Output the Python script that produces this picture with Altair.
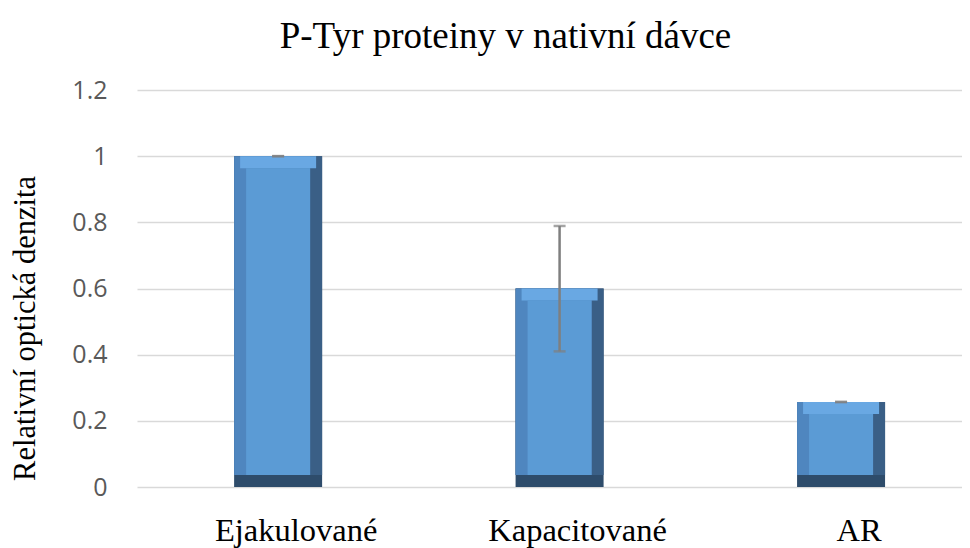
import altair as alt
import pandas as pd

categories = ["Ejakulované", "Kapacitované", "AR"]
values = [1.0, 0.6, 0.257]
err_low = [1.0, 0.41, 0.257]
err_high = [1.0, 0.789, 0.257]

df = pd.DataFrame({"cat": categories, "val": values, "lo": err_low, "hi": err_high})

xscale = alt.Scale(domain=categories, paddingInner=0.687, paddingOuter=0.309, align=0.558)
yscale = alt.Scale(domain=[0, 1.2], nice=False)

X = alt.X("cat:N", scale=xscale, sort=categories, title=None,
          axis=alt.Axis(labelAngle=0, labelFont="Liberation Serif", labelFontSize=32.5,
                        labelColor="#000000", labelPadding=27, labelOffset=18,
                        domain=False, ticks=False))
yaxis = alt.Axis(values=[0, 0.2, 0.4, 0.6, 0.8, 1.0, 1.2], format="~g",
                 labelFont="Open Sans", labelFontSize=25, labelColor="#595959",
                 labelPadding=30, domain=False, ticks=False,
                 gridColor="#D9D9D9", gridWidth=1.5,
                 titleFont="Liberation Serif", titleFontSize=30.5, titleFontWeight="normal",
                 titleColor="#000000", titleX=-112, titleY=238, titleAngle=-90,
                 titleAlign="center", titleBaseline="middle")
TITLE = "Relativní optická denzita"
Y = alt.Y("val:Q", scale=yscale, title=TITLE, axis=yaxis)

base = alt.Chart(df)

# bevel layers
bottom = base.mark_bar(width=88, color="#2E4C6B").encode(x=X, y=Y, y2=alt.datum(0))
right = base.mark_bar(width=88, color="#3A5F86", y2Offset=-12).encode(x=X, y=Y, y2=alt.datum(0))
left = base.mark_bar(width=76, xOffset=-6, color="#4F86BF", y2Offset=-12).encode(x=X, y=Y, y2=alt.datum(0))
top = base.mark_bar(width=76, color="#69A8E3", y2Offset=12).encode(x=X, y=Y, y2="val:Q")
face = base.mark_bar(width=64, color="#5B9BD5", yOffset=12, y2Offset=-12).encode(x=X, y=Y, y2=alt.datum(0))

rule = base.mark_rule(color="#7F7F7F", strokeWidth=2.5).encode(
    x=X, y=alt.Y("lo:Q", scale=yscale, title=TITLE, axis=yaxis), y2="hi:Q")
cap_hi = base.mark_tick(color="#7F7F7F", size=12, thickness=2.5).encode(
    x=X, y=alt.Y("hi:Q", scale=yscale, title=TITLE, axis=yaxis))
cap_lo = base.mark_tick(color="#7F7F7F", size=12, thickness=2.5).encode(
    x=X, y=alt.Y("lo:Q", scale=yscale, title=TITLE, axis=yaxis))

chart = alt.layer(bottom, right, left, top, face, rule, cap_hi, cap_lo).properties(
    width=825, height=397,
    autosize=alt.AutoSizeParams(type="none"),
    padding={"left": 129, "top": 82, "right": 0, "bottom": 61},
    title=alt.TitleParams("P-Tyr proteiny v nativní dávce", font="Liberation Serif",
                          fontSize=37, fontWeight="normal", color="#000000",
                          anchor="middle", dx=-44, offset=-7, baseline="alphabetic", frame="group"),
).configure_view(stroke=None)

chart.save("out.html", embed_options={"renderer": "svg", "actions": False})
